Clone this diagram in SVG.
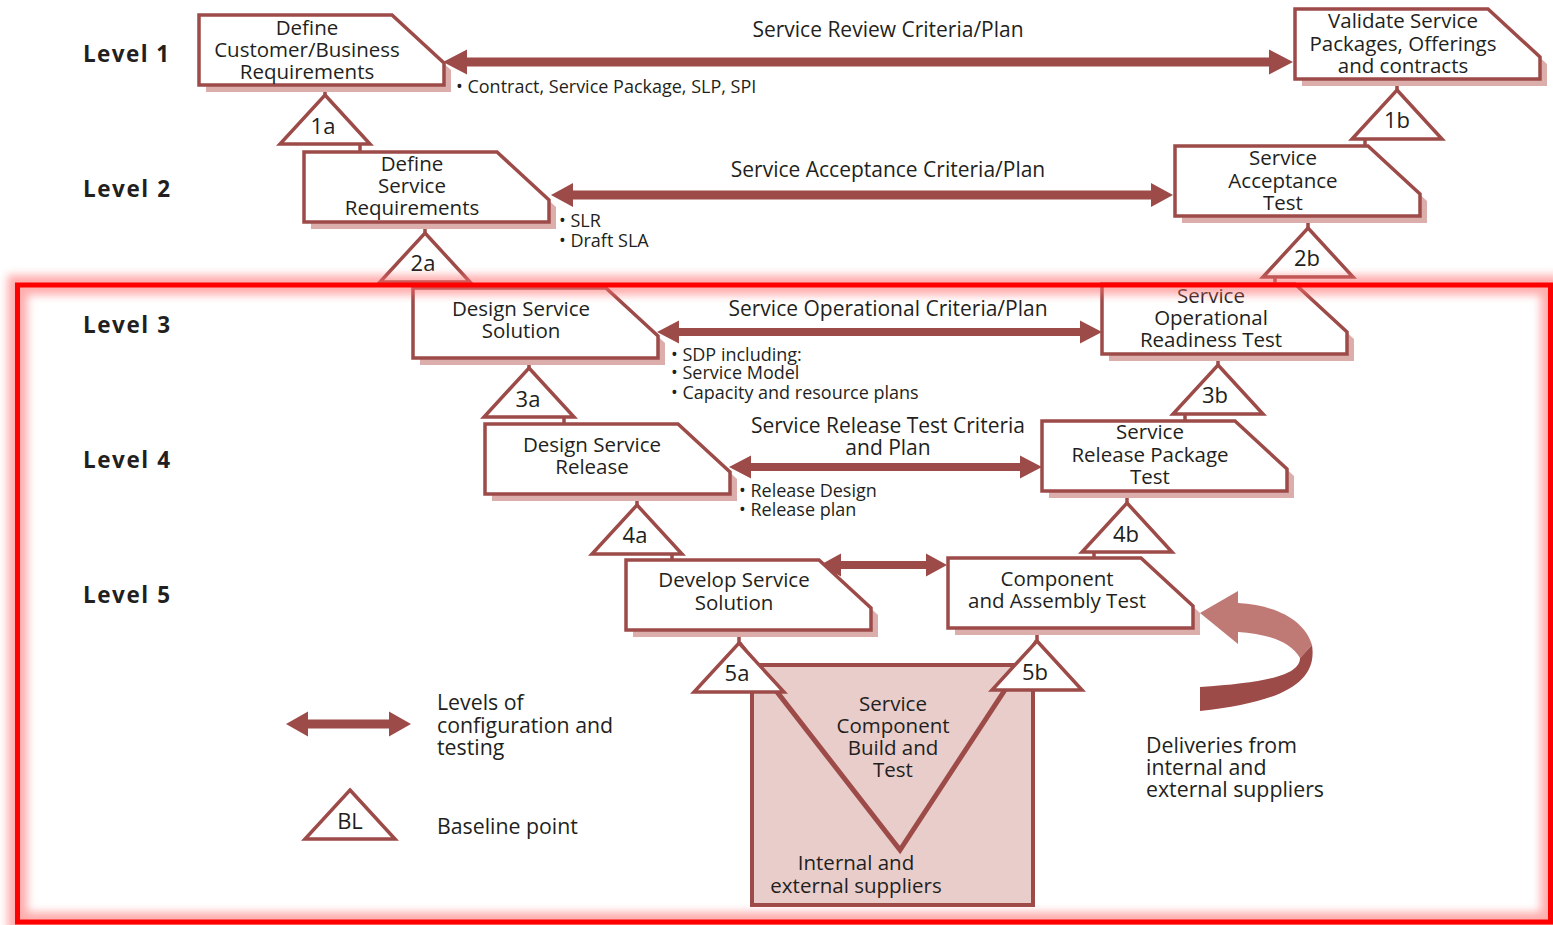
<svg xmlns="http://www.w3.org/2000/svg" xmlns:xlink="http://www.w3.org/1999/xlink" width="1553" height="925" viewBox="0 0 1553 925">
  <style>
    text { font-family: "Open Sans", "Noto Sans", "Liberation Sans", sans-serif; fill: #231f20; }
    .lbl { font-size: 20.5px; text-anchor: middle; }
    .crit { font-size: 21px; text-anchor: middle; }
    .bul { font-size: 18px; }
    .lvl { font-size: 22.5px; font-weight: bold; }
    .tri-t { font-size: 22px; text-anchor: middle; }
    .leg { font-size: 21.3px; }
    .frame { fill: #ffffff; stroke: #9d4b49; stroke-width: 3.5; stroke-linejoin: miter; }
    .shadow { fill: #dbaeab; stroke: none; }
    .tri { fill: #ffffff; stroke: #9d4b49; stroke-width: 3.5; stroke-linejoin: miter; }
    .stem { stroke: #9d4b49; stroke-width: 3.5; fill: none; }
    .arrow { fill: #9d4b49; stroke: none; }
  </style>
  <defs>
    <!-- process box with clipped top-right corner -->
    <path id="box" d="M0,0 H193 L245,48 V70 H0 Z"/>
    <!-- baseline triangle, origin at apex -->
    <path id="tri" d="M0,0 L45,49 L-45,49 Z"/>
    <filter id="soft" x="-5%" y="-5%" width="110%" height="110%">
      <feGaussianBlur stdDeviation="4"/>
    </filter>
  </defs>

  <rect width="1553" height="925" fill="#ffffff"/>

  <!-- level captions -->
  <g id="levels">
    <text class="lvl" x="83" y="62" textLength="86">Level 1</text>
    <text class="lvl" x="83" y="197" textLength="87">Level 2</text>
    <text class="lvl" x="83" y="333" textLength="87">Level 3</text>
    <text class="lvl" x="83" y="468" textLength="87">Level 4</text>
    <text class="lvl" x="83" y="603" textLength="87">Level 5</text>
  </g>

  <!-- stems joining baseline triangles to boxes -->
  <g id="connectors">
    <path class="stem" d="M325,95 V85 M360,144 V152"/>
    <path class="stem" d="M1397,90 V78 M1365,139 V146"/>
    <path class="stem" d="M425,233 V221 M460,282 V288"/>
    <path class="stem" d="M1308,228 V215 M1275,277 V284"/>
    <path class="stem" d="M529,368 V357 M564,417 V424"/>
    <path class="stem" d="M1218,365 V353 M1185,414 V421"/>
    <path class="stem" d="M637,505 V493 M672,554 V560"/>
    <path class="stem" d="M1127,503 V490 M1094,552 V558"/>
    <path class="stem" d="M739,643 V629 M1037,641 V628"/>

    <!-- two-way arrows between matching levels -->
    <path class="arrow" d="M443,62 L467,49.5 L467,57.5 L1269,57.5 L1269,49.5 L1293,62 L1269,74.5 L1269,66.5 L467,66.5 L467,74.5 Z"/>
    <path class="arrow" d="M551,195 L573,183 L573,190.5 L1151,190.5 L1151,183 L1173,195 L1151,207 L1151,199.5 L573,199.5 L573,207 Z"/>
    <path class="arrow" d="M657,332 L679,320.5 L679,328 L1080,328 L1080,320.5 L1102,332 L1080,343.5 L1080,336 L679,336 L679,343.5 Z"/>
    <path class="arrow" d="M729,467 L751,455.5 L751,463 L1020,463 L1020,455.5 L1042,467 L1020,478.5 L1020,471 L751,471 L751,478.5 Z"/>
    <path class="arrow" d="M820,565 L841,553.5 L841,561 L926,561 L926,553.5 L947,565 L926,576.5 L926,569 L841,569 L841,576.5 Z"/>

    <text class="crit" x="888" y="37">Service Review Criteria/Plan</text>
    <text class="crit" x="888" y="177">Service Acceptance Criteria/Plan</text>
    <text class="crit" x="888" y="316">Service Operational Criteria/Plan</text>
    <text class="crit" x="888" y="433">Service Release Test Criteria</text>
    <text class="crit" x="888" y="455">and Plan</text>

    <text class="bul" x="456" y="93">• Contract, Service Package, SLP, SPI</text>
    <text class="bul" x="559" y="227">• SLR</text>
    <text class="bul" x="559" y="247">• Draft SLA</text>
    <text class="bul" x="671" y="361">• SDP including:</text>
    <text class="bul" x="671" y="379">• Service Model</text>
    <text class="bul" x="671" y="399">• Capacity and resource plans</text>
    <text class="bul" x="739" y="497">• Release Design</text>
    <text class="bul" x="739" y="516">• Release plan</text>
  </g>

  <!-- left branch: definition and design -->
  <g id="define-customer">
    <use href="#box" class="shadow" x="206" y="22"/>
    <use href="#box" class="frame" x="199" y="15"/>
    <text class="lbl" x="307" y="35">Define</text>
    <text class="lbl" x="307" y="57">Customer/Business</text>
    <text class="lbl" x="307" y="79">Requirements</text>
  </g>
  <g id="define-service">
    <use href="#box" class="shadow" x="311" y="159"/>
    <use href="#box" class="frame" x="304" y="152"/>
    <text class="lbl" x="412" y="171">Define</text>
    <text class="lbl" x="412" y="193">Service</text>
    <text class="lbl" x="412" y="215">Requirements</text>
  </g>
  <g id="design-solution">
    <use href="#box" class="shadow" x="420" y="295"/>
    <use href="#box" class="frame" x="413" y="288"/>
    <text class="lbl" x="521" y="316">Design Service</text>
    <text class="lbl" x="521" y="338">Solution</text>
  </g>
  <g id="design-release">
    <use href="#box" class="shadow" x="492" y="431"/>
    <use href="#box" class="frame" x="485" y="424"/>
    <text class="lbl" x="592" y="452">Design Service</text>
    <text class="lbl" x="592" y="474">Release</text>
  </g>
  <g id="develop-solution">
    <use href="#box" class="shadow" x="633" y="567"/>
    <use href="#box" class="frame" x="626" y="560"/>
    <text class="lbl" x="734" y="587">Develop Service</text>
    <text class="lbl" x="734" y="610">Solution</text>
  </g>

  <!-- right branch: validation and testing -->
  <g id="validate-packages">
    <use href="#box" class="shadow" x="1302" y="16"/>
    <use href="#box" class="frame" x="1295" y="9"/>
    <text class="lbl" x="1403" y="28">Validate Service</text>
    <text class="lbl" x="1403" y="51">Packages, Offerings</text>
    <text class="lbl" x="1403" y="73">and contracts</text>
  </g>
  <g id="acceptance-test">
    <use href="#box" class="shadow" x="1182" y="153"/>
    <use href="#box" class="frame" x="1175" y="146"/>
    <text class="lbl" x="1283" y="165">Service</text>
    <text class="lbl" x="1283" y="188">Acceptance</text>
    <text class="lbl" x="1283" y="210">Test</text>
  </g>
  <g id="readiness-test">
    <use href="#box" class="shadow" x="1109" y="291"/>
    <use href="#box" class="frame" x="1102" y="284"/>
    <text class="lbl" x="1211" y="303">Service</text>
    <text class="lbl" x="1211" y="325">Operational</text>
    <text class="lbl" x="1211" y="347">Readiness Test</text>
  </g>
  <g id="release-package-test">
    <use href="#box" class="shadow" x="1049" y="428"/>
    <use href="#box" class="frame" x="1042" y="421"/>
    <text class="lbl" x="1150" y="439">Service</text>
    <text class="lbl" x="1150" y="462">Release Package</text>
    <text class="lbl" x="1150" y="484">Test</text>
  </g>
  <g id="component-test">
    <use href="#box" class="shadow" x="955" y="565"/>
    <use href="#box" class="frame" x="948" y="558"/>
    <text class="lbl" x="1057" y="586">Component</text>
    <text class="lbl" x="1057" y="608">and Assembly Test</text>
  </g>

  <!-- component build area at the bottom of the V -->
  <g id="component-build">
    <rect x="752" y="665" width="281" height="240" fill="#e9cdcb" stroke="#9d4b49" stroke-width="4"/>
    <path d="M739,643 L900,850 L1037,641" fill="none" stroke="#9d4b49" stroke-width="5" stroke-linejoin="miter"/>
    <text class="lbl" x="893" y="711">Service</text>
    <text class="lbl" x="893" y="733">Component</text>
    <text class="lbl" x="893" y="755">Build and</text>
    <text class="lbl" x="893" y="777">Test</text>
    <text class="lbl" x="856" y="870">Internal and</text>
    <text class="lbl" x="856" y="893">external suppliers</text>
  </g>

  <!-- baseline points -->
  <g id="baselines">
    <use href="#tri" class="tri" x="325" y="95"/><text class="tri-t" x="323" y="134">1a</text>
    <use href="#tri" class="tri" x="1397" y="90"/><text class="tri-t" x="1397" y="128">1b</text>
    <use href="#tri" class="tri" x="425" y="233"/><text class="tri-t" x="423" y="271">2a</text>
    <use href="#tri" class="tri" x="1308" y="228"/><text class="tri-t" x="1307" y="266">2b</text>
    <use href="#tri" class="tri" x="529" y="368"/><text class="tri-t" x="528" y="407">3a</text>
    <use href="#tri" class="tri" x="1218" y="365"/><text class="tri-t" x="1215" y="403">3b</text>
    <use href="#tri" class="tri" x="637" y="505"/><text class="tri-t" x="635" y="543">4a</text>
    <use href="#tri" class="tri" x="1127" y="503"/><text class="tri-t" x="1126" y="542">4b</text>
    <use href="#tri" class="tri" x="739" y="643"/><text class="tri-t" x="737" y="681">5a</text>
    <use href="#tri" class="tri" x="1037" y="641"/><text class="tri-t" x="1035" y="680">5b</text>
  </g>

  <!-- curved delivery arrow from suppliers -->
  <g id="deliveries">
    <path d="M1238,603 C1275,605 1305,620 1312,645 L1300,658 C1290,640 1265,634 1238,632 Z" fill="#c07a75"/>
    <path d="M1200,613 L1238,591 L1238,644 Z" fill="#c07a75"/>
    <path d="M1312,645 C1318,684 1280,702 1200,711 L1200,687 C1262,683 1300,676 1300,658 Z" fill="#9d4b49"/>
    <text class="leg" x="1146" y="753">Deliveries from</text>
    <text class="leg" x="1146" y="775">internal and</text>
    <text class="leg" x="1146" y="797">external suppliers</text>
  </g>

  <!-- legend -->
  <g id="legend">
    <path class="arrow" d="M286,724 L308,711.5 L308,719.5 L389,719.5 L389,711.5 L411,724 L389,736.5 L389,728.5 L308,728.5 L308,736.5 Z"/>
    <text class="leg" x="437" y="710">Levels of</text>
    <text class="leg" x="437" y="733">configuration and</text>
    <text class="leg" x="437" y="755">testing</text>
    <use href="#tri" class="tri" x="350" y="790"/>
    <text class="tri-t" x="350" y="829">BL</text>
    <text class="leg" x="437" y="834">Baseline point</text>
  </g>

  <!-- highlight frame around levels 3 to 5 -->
  <g id="highlight">
    <rect x="17.5" y="285" width="1533" height="637" fill="none" stroke="#ff6b6b" stroke-width="20" opacity="0.55" filter="url(#soft)"/>
    <rect x="17.5" y="285" width="1533" height="637" fill="none" stroke="#ff0000" stroke-width="5"/>
  </g>
</svg>
